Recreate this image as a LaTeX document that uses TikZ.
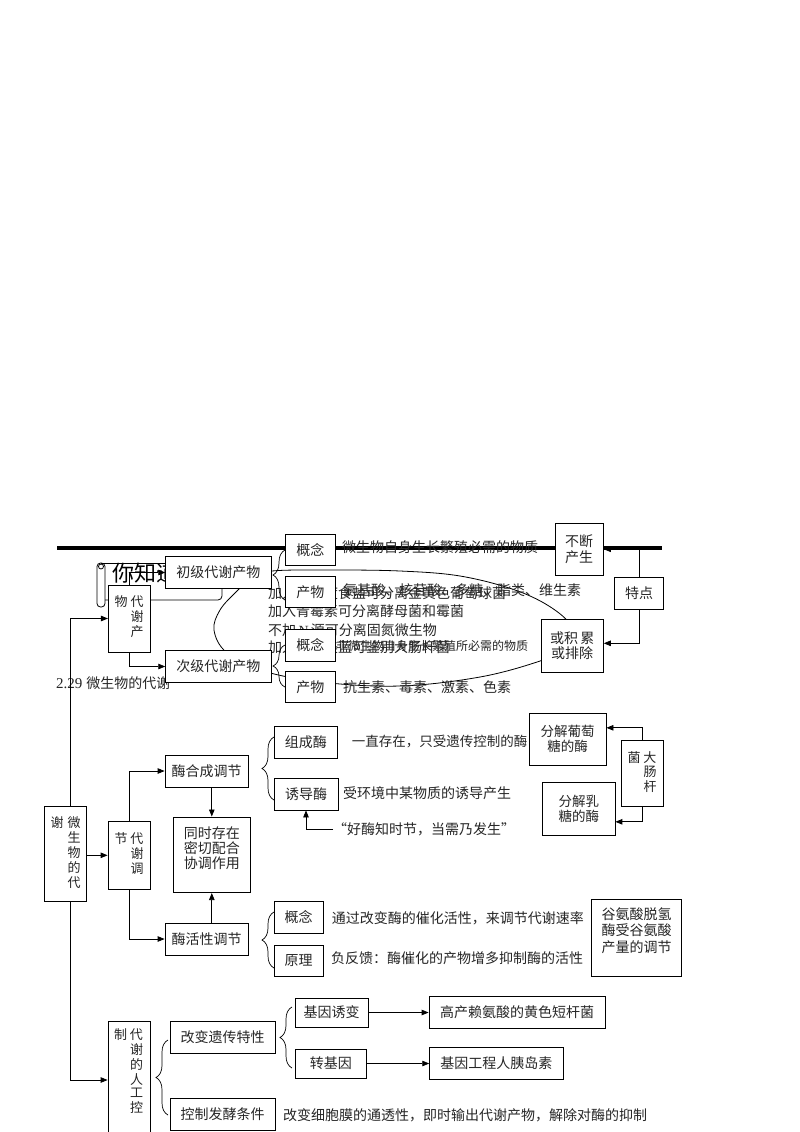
\documentclass[tikz,border=0pt]{standalone}
\usepackage{fontspec}
\setmainfont{Liberation Serif}
\newfontfamily\cjk{Noto Sans CJK SC}
\usetikzlibrary{arrows.meta,decorations.pathreplacing,calc}
\begin{document}
\begin{tikzpicture}[x=1pt,y=-1pt,
  sz/.style 2 args={minimum width=#1pt,minimum height=#2pt},
  box/.style={draw=black, line width=0.8pt, fill=white, inner sep=0pt, align=center, text=black!85, font=\cjk\fontsize{14}{15.5}\selectfont},
  vbox/.style={box, font=\cjk\fontsize{13}{13.5}\selectfont},
  lbl/.style={inner sep=0pt, align=center, text=black!85, font=\cjk\fontsize{14}{15}\selectfont},
  txt/.style={anchor=west, inner sep=0pt, text=black!85, font=\cjk\fontsize{14}{16}\selectfont},
  ln/.style={line width=0.8pt, draw=black},
  arr/.style={ln, -{Triangle[length=7pt,width=5.5pt]}},
  brc/.style={draw=black, line width=0.7pt, decorate, decoration={brace, amplitude=12pt}}]
\fill[white] (0,0) rectangle (800,1132);
\useasboundingbox (0,0) rectangle (800,1132);

% thick rule
\coordinate (hl1) at (57,548);
\coordinate (hl2) at (662,548);
\draw[line width=4pt] (hl1) -- (hl2);

% closed free-hand curve
\draw[ln] plot[smooth cycle, tension=0.6] coordinates {(272,571) (330,570) (400,571) (460,576) (515,590) (552,608) (572,628) (566,648) (540,661) (480,677) (400,686) (320,682) (260,670) (226,652) (214,630) (220,610) (236,592) (252,578)};

% scroll banner
\draw[ln, rounded corners=3.5pt] (97,563) rectangle (105,607);
\draw[ln] (101,566.5) circle (2.5);
\draw[ln] (101,563) -- (222,563);
\draw[ln, rounded corners=4pt] (222,556) -- (222,600) -- (105,600);

% loose texts
\node[txt, font=\cjk\fontsize{22}{24}\selectfont, text=black] (nzd) at (112,573) {你知道};
\node[txt] (ttl) at (56,683) {{\rmfamily\fontsize{15}{16}\selectfont 2.29}\hspace{4pt}微生物的代谢};
\node[txt] (a1) at (268,593) {加入高浓度食盐可分离金黄色葡萄球菌};
\node[txt] (a2) at (268,611.5) {加入青霉素可分离酵母菌和霉菌};
\node[txt] (a3) at (268,630) {不加\,{\rmfamily N}\,源可分离固氮微生物};
\node[txt] (a4) at (268,647) {加入伊红美蓝可鉴别大肠杆菌};
\node[txt] (c1) at (342,547) {微生物自身生长繁殖必需的物质};
\node[txt] (c2) at (343,590) {氨基酸、核苷酸、多糖、脂类、维生素};
\node[txt, font=\cjk\fontsize{12}{14}\selectfont] (c3) at (336,646) {非微生物自身生长繁殖所必需的物质};
\node[txt] (c4) at (343,687) {抗生素、毒素、激素、色素};

% top section boxes
\node[box, sz={49.3}{31.7}] (gn1) at (310.3,549.9) {概念};
\node[box, sz={105.3}{31.6}] (cj) at (218.3,572.5) {初级代谢产物};
\node[box, sz={49.3}{31.7}] (cw1) at (310.3,591.9) {产物};
\node[vbox, sz={41.7}{67}] (dxcw) at (129.2,618.5) {\begin{tabular}{@{}c@{\hspace{3pt}}c@{}}物&代\\&谢\\&产\end{tabular}};
\node[box, sz={105.3}{31.6}] (cj2) at (218.3,666.5) {次级代谢产物};
\node[box, sz={49.3}{32}] (gn2) at (310.3,645) {概念};
\node[box, sz={49.3}{31}] (cw2) at (310.3,687.2) {产物};
\node[box, sz={48.3}{51.7}] (bd) at (579.2,549.2) {不断\\产生};
\node[box, sz={49.3}{31.3}] (td) at (639,593.3) {特点};
\node[box, sz={62.3}{53.3}] (jl) at (572.2,645.7) {或积\,累\\或排除};

% middle section
\node[vbox, sz={42}{95.7}] (main) at (65.7,853.8) {\begin{tabular}{@{}c@{\hspace{4pt}}c@{}}谢&微\\&生\\&物\\&的\\&代\end{tabular}};
\node[vbox, sz={42}{67.3}] (tj) at (129,855.3) {\begin{tabular}{@{}c@{\hspace{3pt}}c@{}}节&代\\&谢\\&调\end{tabular}};
\node[box, sz={83}{32}] (hc) at (206.5,771) {酶合成调节};
\node[box, sz={77.7}{75.7}] (ts) at (211.8,854.8) {};
\node[lbl] (tst) at (211.8,848) {同时存在\\密切配合\\协调作用};
\node[box, sz={83}{32}] (hx) at (206.5,939) {酶活性调节};
\node[box, sz={63.7}{32}] (zc) at (305.8,742) {组成酶};
\node[box, sz={64}{32}] (yd) at (306,794) {诱导酶};
\node[box, sz={49}{31.3}] (gn3) at (298.5,917.3) {概念};
\node[box, sz={49}{31}] (yl) at (298.5,960.5) {原理};
\node[box, sz={77}{52.7}, font=\cjk\fontsize{13.5}{15}\selectfont] (pt) at (567.5,739.3) {分解葡萄\\糖的酶};
\node[vbox, sz={42}{66.7}] (dc) at (642,773.3) {\begin{tabular}{@{}c@{\hspace{3pt}}c@{}}菌&大\\&肠\\&杆\end{tabular}};
\node[box, sz={72.3}{52.3}, font=\cjk\fontsize{13.5}{15}\selectfont] (rt) at (578.8,808.8) {分解乳\\糖的酶};
\node[box, sz={90}{77.7}] (ga) at (636.7,937.8) {};
\node[lbl, font=\cjk\fontsize{14}{16.5}\selectfont] (gat) at (636.7,930.5) {谷氨酸脱氢\\酶受谷氨酸\\产量的调节};
\node[txt, font=\cjk\fontsize{13.5}{16}\selectfont] (zct) at (351.7,742) {一直存在，只受遗传控制的酶};
\node[txt] (ydt) at (343,793) {受环境中某物质的诱导产生};
\node[txt] (qt) at (333,829) {“好酶知时节，当需乃发生”};
\node[txt] (gn3t) at (331.7,918) {通过改变酶的催化活性，来调节代谢速率};
\node[txt] (ylt) at (331,958) {负反馈：酶催化的产物增多抑制酶的活性};

% bottom section
\node[box, sz={42}{120}] (rg) at (129,1081.7) {};
\node[lbl, font=\cjk\fontsize{13}{13.5}\selectfont] (rgt) at (128.5,1072.5) {\begin{tabular}{@{}c@{\hspace{3pt}}c@{}}制&代\\&谢\\&的\\&人\\&工\\&控\end{tabular}};
\node[box, sz={105}{31.3}] (gy) at (222.5,1037.3) {改变遗传特性};
\node[box, sz={105}{32}] (kz) at (222.5,1114) {控制发酵条件};
\node[box, sz={73}{29}] (jy) at (331.5,1012.5) {基因诱变};
\node[box, sz={71.7}{29}] (zj) at (330.8,1063.5) {转基因};
\node[box, sz={176}{32}] (gc) at (517,1012) {高产赖氨酸的黄色短杆菌};
\node[box, sz={133.3}{31.3}] (rd) at (496.3,1063.3) {基因工程人胰岛素};
\node[txt] (kzt) at (283,1115) {改变细胞膜的通透性，即时输出代谢产物，解除对酶的抑制};

% connectors
\coordinate (vl) at (70,0);
\draw[arr] (main.north -| vl) |- (dxcw.west);
\draw[arr] (main.south -| vl) |- ([yshift=1.7pt]rg.west);
\draw[arr] (main.east |- tj.west) -- (tj.west);
\draw[arr] (dxcw.north) |- (cj.west);
\draw[arr] (dxcw.south) |- (cj2.west);
\draw[arr] (tj.north) |- (hc.west);
\draw[arr] (tj.south) |- (hx.west);
\draw[arr] (hc.south -| ts.north) -- (ts.north);
\draw[arr] (hx.north -| ts.south) -- (ts.south);
\draw[arr] (qt.west) -| (yd.south);
\draw[arr] (dc.north) |- ([yshift=11.5pt]pt.east);
\draw[arr] (dc.south) |- ([yshift=-13pt]rt.east);
\draw[arr] (td.north) |- (bd.east);
\draw[arr] (td.south) |- ([yshift=2.4pt]jl.east);
\draw[arr] (jy.east) -- (gc.west |- jy.east);
\draw[arr] (zj.east) -- (rd.west |- zj.east);

% braces
\draw[brc] (285,600) -- (285,550);
\draw[brc] (285,687) -- (285,645);
\draw[brc] (274,800) -- (274,737);
\draw[brc] (274,968) -- (274,912);
\draw[brc] (168,1115) -- (168,1040);
\draw[brc] (292,1068) -- (292,1007);
\end{tikzpicture}
\end{document}
